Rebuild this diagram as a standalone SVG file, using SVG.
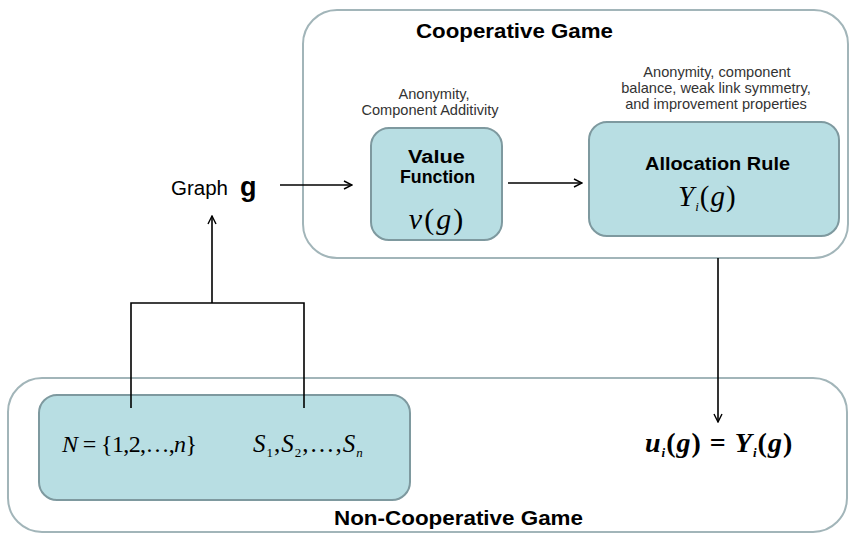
<svg xmlns="http://www.w3.org/2000/svg" width="852" height="535" viewBox="0 0 852 535">
  <defs>
    <marker id="arrow" viewBox="0 0 10 10" refX="9" refY="5" markerWidth="10" markerHeight="10" markerUnits="userSpaceOnUse" orient="auto">
      <path d="M1,1 L9,5 L1,9" fill="none" stroke="#000" stroke-width="1.4"/>
    </marker>
    <style>
      .frame { fill: #ffffff; stroke: #a2b5b9; stroke-width: 2; }
      .box { fill: #b8dee3; stroke: #7e999f; stroke-width: 2; }
      .title { font-family: "Liberation Sans", Arial, sans-serif; font-weight: bold; font-size: 20px; fill: #000; }
      .label { font-family: "Liberation Sans", Arial, sans-serif; font-weight: bold; font-size: 18px; fill: #000; }
      .note { font-family: "Liberation Sans", Arial, sans-serif; font-size: 14.6px; fill: #333; text-anchor: middle; }
      .math { font-family: "Liberation Serif", "Times New Roman", serif; font-style: italic; fill: #000; }
      .up { font-style: normal; }
      .sub { font-size: 13px; }
      .conn { fill: none; stroke: #000; stroke-width: 1.6; }
    </style>
  </defs>
  <rect width="852" height="535" fill="#ffffff"/>

  <!-- Cooperative game frame -->
  <g id="cooperative-game">
    <rect class="frame" x="303" y="10" width="545" height="248" rx="34"/>
    <text class="title" x="416" y="38" textLength="197" lengthAdjust="spacingAndGlyphs">Cooperative Game</text>
  </g>

  <!-- Non-cooperative game frame -->
  <g id="non-cooperative-game">
    <rect class="frame" x="8" y="378" width="839" height="154" rx="34"/>
    <text class="title" x="334" y="525" textLength="249" lengthAdjust="spacingAndGlyphs">Non-Cooperative Game</text>
  </g>

  <!-- Value function -->
  <g id="value-function">
    <text class="note" x="434" y="99">Anonymity,</text>
    <text class="note" x="430" y="115">Component Additivity</text>
    <rect class="box" x="371" y="128" width="131" height="112" rx="18"/>
    <text class="label" x="408" y="163" textLength="57" lengthAdjust="spacingAndGlyphs">Value</text>
    <text class="label" x="400" y="183" textLength="75" lengthAdjust="spacingAndGlyphs">Function</text>
    <text class="math" x="437" y="229" font-size="30" text-anchor="middle" letter-spacing="2">v<tspan class="up">(</tspan>g<tspan class="up">)</tspan></text>
  </g>

  <!-- Allocation rule -->
  <g id="allocation-rule">
    <text class="note" x="717" y="77">Anonymity, component</text>
    <text class="note" x="716" y="93">balance, weak link symmetry,</text>
    <text class="note" x="716" y="109">and improvement properties</text>
    <rect class="box" x="589" y="122" width="250" height="114" rx="18"/>
    <text class="label" x="645" y="170" textLength="145" lengthAdjust="spacingAndGlyphs">Allocation Rule</text>
    <text class="math" x="678" y="206" font-size="29" letter-spacing="1">Y<tspan class="sub" dy="5">i</tspan><tspan class="up" dy="-5">(</tspan>g<tspan class="up">)</tspan></text>
  </g>

  <!-- Graph g -->
  <g id="graph">
    <text x="171" y="195" font-family="'Liberation Sans', Arial, sans-serif" font-size="20" fill="#000" textLength="57" lengthAdjust="spacingAndGlyphs">Graph</text>
    <text x="240" y="196" font-family="'Liberation Sans', Arial, sans-serif" font-size="27" font-weight="bold" fill="#000">g</text>
  </g>

  <!-- Players and strategies -->
  <g id="players-strategies">
    <rect class="box" x="39" y="395" width="371" height="105" rx="18"/>
    <text class="math" x="62" y="452" font-size="24" textLength="135" lengthAdjust="spacing">N <tspan class="up">= {1,2,…,</tspan>n<tspan class="up">}</tspan></text>
    <text class="math" x="253" y="452" font-size="25" letter-spacing="1">S<tspan class="sub up" dy="5">1</tspan><tspan class="up" dy="-5">,</tspan>S<tspan class="sub up" dy="5">2</tspan><tspan class="up" dy="-5">,…,</tspan>S<tspan class="sub" dy="5">n</tspan></text>
  </g>

  <!-- Payoff -->
  <g id="payoff">
    <text class="math" x="645" y="452" font-size="28" font-weight="bold" letter-spacing="1">u<tspan class="sub" dy="5">i</tspan><tspan class="up" dy="-5">(</tspan>g<tspan class="up">) = </tspan>Y<tspan class="sub" dy="5">i</tspan><tspan class="up" dy="-5">(</tspan>g<tspan class="up">)</tspan></text>
  </g>

  <!-- Connectors -->
  <g id="connectors">
    <path class="conn" d="M280,185 L352,185" marker-end="url(#arrow)"/>
    <path class="conn" d="M508,183 L582,183" marker-end="url(#arrow)"/>
    <path class="conn" d="M718,258 L718,422" marker-end="url(#arrow)"/>
    <path class="conn" d="M131,408 L131,303 L304,303 L304,408"/>
    <path class="conn" d="M212,303 L212,216" marker-end="url(#arrow)"/>
  </g>
</svg>
